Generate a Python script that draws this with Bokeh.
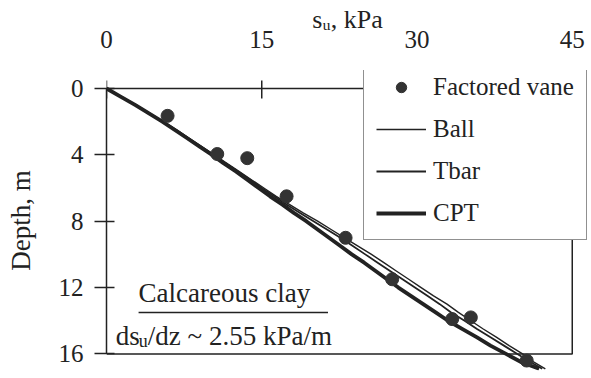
from bokeh.plotting import figure
from bokeh.models import Range1d, Legend, LegendItem, Label, FixedTicker
from bokeh.embed import file_html
from bokeh.resources import INLINE

# ---- data ----
depth = [0, 0.5, 1, 1.5, 2, 2.5, 3, 3.5, 4, 4.5, 5, 5.5, 6, 6.5, 7, 7.5, 8, 8.5,
         9, 9.5, 10, 10.5, 11, 11.5, 12, 12.5, 13, 13.5, 14, 14.5, 15, 15.5, 16, 16.5, 16.9]
ball_su = [0, 1.5, 2.9, 4.2, 5.5, 6.8, 8.0, 9.2, 10.4, 11.6, 12.8, 14.0, 15.2, 16.4, 17.7,
           19.0, 20.4, 21.7, 23.0, 24.3, 25.6, 26.8, 28.0, 29.2, 30.4, 31.6, 32.9, 34.0,
           35.2, 36.4, 37.7, 38.9, 40.2, 41.3, 42.4]
tbar_su = [0, 1.4, 2.8, 4.1, 5.4, 6.7, 7.9, 9.1, 10.3, 11.5, 12.7, 13.9, 15.0, 16.2, 17.4,
           18.7, 20.0, 21.3, 22.6, 23.8, 25.0, 26.2, 27.4, 28.6, 29.8, 31.0, 32.2, 33.3,
           34.6, 35.8, 37.1, 38.4, 39.7, 41.0, 42.1]
cpt_su = [0, 1.4, 2.8, 4.1, 5.4, 6.6, 7.8, 9.0, 10.2, 11.3, 12.5, 13.6, 14.7, 15.8, 17.0,
          18.1, 19.3, 20.4, 21.5, 22.6, 23.7, 24.9, 26.0, 27.1, 28.2, 29.4, 30.6, 31.8,
          33.0, 34.4, 35.8, 37.1, 38.6, 40.1, 41.8]
vane_su = [5.9, 10.7, 13.6, 17.4, 23.1, 27.6, 33.4, 35.2, 40.6]
vane_depth = [1.65, 3.95, 4.2, 6.5, 9.0, 11.5, 13.9, 13.8, 16.4]
x_ticks = [0, 15, 30, 45]
y_ticks = [0, 4, 8, 12, 16]
X_MAX, Y_MAX = 45, 16

INK = "#222222"
FONT = "Liberation Serif"

p = figure(width=591, height=378, x_range=Range1d(0, 46.57), y_range=Range1d(17, -1.084),
           x_axis_location="above", output_backend="svg", toolbar_location=None,
           min_border_left=106, min_border_right=3, min_border_top=70, min_border_bottom=8)
p.outline_line_color = None
p.xgrid.grid_line_color = None
p.ygrid.grid_line_color = None
p.background_fill_color = "white"
p.border_fill_color = "white"

for ax in (p.xaxis[0], p.yaxis[0]):
    ax.axis_line_color = INK
    ax.axis_line_width = 1.5
    ax.major_tick_line_color = INK
    ax.major_tick_line_width = 1.5
    ax.minor_tick_line_color = None
    ax.major_label_text_font = FONT
    ax.major_label_text_font_size = "25px"
    ax.major_label_text_color = INK
    ax.axis_label_text_font = FONT
    ax.axis_label_text_font_style = "normal"
    ax.axis_label_text_color = INK

# top axis: labels from Bokeh, line and ticks drawn at depth 0
p.xaxis.ticker = FixedTicker(ticks=x_ticks)
p.xaxis.axis_line_color = None
p.xaxis.major_tick_out = 0
p.xaxis.major_tick_in = 0
p.xaxis.major_label_standoff = 23
p.xaxis.axis_label = "s\u1d64, kPa"
p.xaxis.axis_label_text_font_size = "26px"
p.xaxis.axis_label_standoff = -6

p.yaxis.ticker = FixedTicker(ticks=y_ticks)
p.yaxis.bounds = (0, Y_MAX)
p.yaxis.major_tick_out = 12
p.yaxis.major_tick_in = 8
p.yaxis.major_label_standoff = 11
p.yaxis.axis_label = "Depth, m"
p.yaxis.axis_label_text_font_size = "27px"
p.yaxis.axis_label_standoff = 20

# plot box: top, right, bottom
p.line(x=[0, X_MAX, X_MAX, 0], y=[0, 0, Y_MAX, Y_MAX], line_color=INK, line_width=1.5)
p.segment(x0=x_ticks, x1=x_ticks, y0=[-0.48] * len(x_ticks), y1=[0.6] * len(x_ticks),
          line_color=INK, line_width=1.5)

ball = p.line(ball_su, depth, line_color=INK, line_width=1.4)
tbar = p.line(tbar_su, depth, line_color=INK, line_width=1.8)
cpt = p.line(cpt_su, depth, line_color=INK, line_width=3.8)
vane = p.scatter(vane_su, vane_depth, marker="circle", size=13, fill_color="#333333",
                 line_color="#333333")

legend = Legend(items=[LegendItem(label="Factored vane", renderers=[vane]),
                       LegendItem(label="Ball", renderers=[ball]),
                       LegendItem(label="Tbar", renderers=[tbar]),
                       LegendItem(label="CPT", renderers=[cpt])],
                location=(257, 130))
legend.border_line_color = INK
legend.border_line_width = 1.5
legend.background_fill_color = "white"
legend.background_fill_alpha = 1
legend.label_text_font = FONT
legend.label_text_font_size = "25px"
legend.label_text_color = INK
legend.glyph_width = 50
legend.glyph_height = 26
legend.label_height = 26
legend.spacing = 14
legend.padding = 12
legend.label_standoff = 7
legend.margin = 0
p.add_layout(legend)

def lab(text, x, y, size, xoff=0):
    p.add_layout(Label(x=x, y=y, text=text, x_offset=xoff, text_font=FONT,
                       text_font_size=size, text_color=INK, text_baseline="middle",
                       text_align="left"))

# annotation
lab("Calcareous clay", 3.1, 12.35, "27px")
p.line(x=[3.1, 21.4], y=[13.5, 13.5], line_color=INK, line_width=1.5)
lab("ds", 0.9, 14.9, "27px")
lab("u", 0.9, 15.25, "18px", xoff=23)
lab("/dz ~ 2.55 kPa/m", 0.9, 14.9, "27px", xoff=32)

open("out.html", "w").write(file_html(p, INLINE))
